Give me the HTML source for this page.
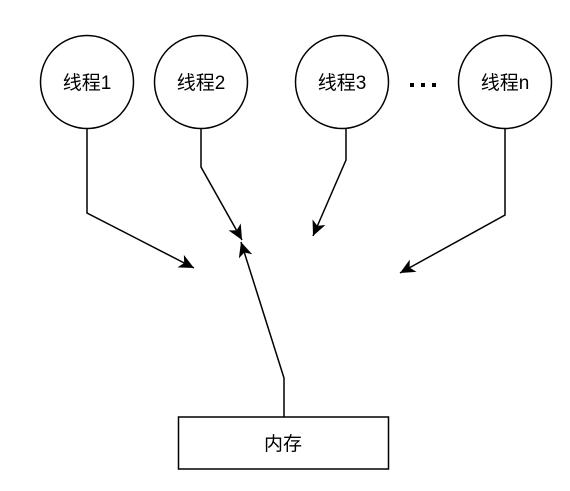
<!DOCTYPE html>
<html><head><meta charset="utf-8"><style>
html,body{margin:0;padding:0;background:#fff;}
svg{display:block}
text{font-family:"Liberation Sans","Noto Sans CJK SC",sans-serif;font-size:19px;fill:#000}
</style></head><body>
<svg width="570" height="491" viewBox="0 0 570 491" xmlns="http://www.w3.org/2000/svg">
<defs>
<marker id="a" markerUnits="userSpaceOnUse" markerWidth="16" markerHeight="16" refX="15" refY="7" orient="auto" viewBox="0 0 16 14">
<path d="M0,0 L15,7 L0,14 L4,7 z" fill="#000"/>
</marker>
</defs>
<g fill="#fff" stroke="#000" stroke-width="1.5">
<circle cx="87" cy="82" r="46.5"/>
<circle cx="201" cy="82" r="46.5"/>
<circle cx="342" cy="82" r="46.5"/>
<circle cx="505" cy="82" r="46.5"/>
<rect x="178.5" y="417" width="210" height="52"/>
</g>
<g fill="none" stroke="#000" stroke-width="1.5" marker-end="url(#a)">
<polyline points="87,129 87,213 194,268"/>
<polyline points="201,129 201,167 242,240"/>
<polyline points="346,129 346,160 313,236"/>
<polyline points="505,129 505,215 400,273"/>
<polyline points="284,417 284,378 241,242"/>
</g>
<g text-anchor="middle">
<text x="87" y="89">线程1</text>
<text x="201" y="89">线程2</text>
<text x="342" y="89">线程3</text>
<text x="505" y="89">线程n</text>
<text x="283" y="450">内存</text>
</g>
<g fill="#000">
<rect x="410" y="83" width="4" height="4"/>
<rect x="421" y="83" width="4" height="4"/>
<rect x="432" y="83" width="4" height="4"/>
</g>
</svg>
</body></html>
